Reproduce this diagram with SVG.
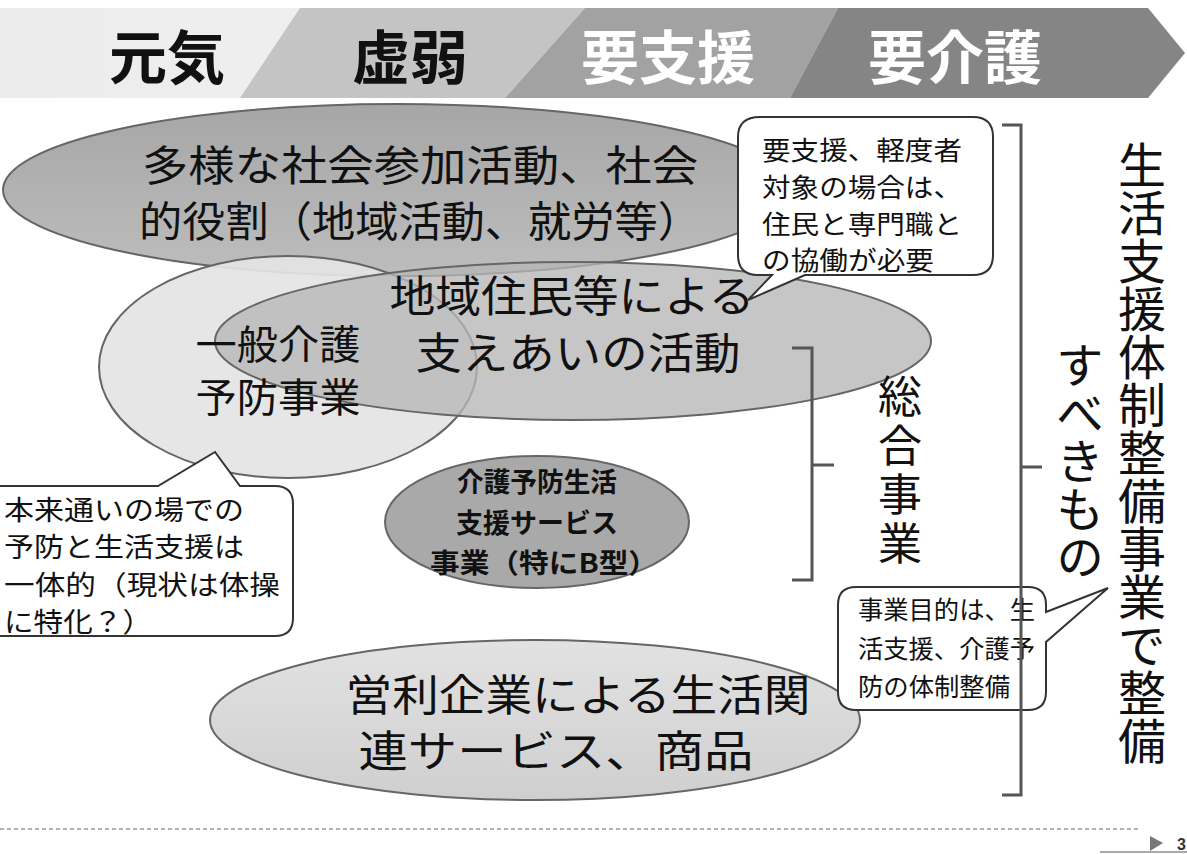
<svg xmlns="http://www.w3.org/2000/svg" width="1187" height="854" viewBox="0 0 1187 854">
<defs>
<linearGradient id="gGenki" x1="0" y1="0" x2="1" y2="0"><stop offset="0" stop-color="#ececec"/><stop offset="1" stop-color="#f6f6f6"/></linearGradient>
<linearGradient id="gE1" x1="0" y1="0" x2="0" y2="1"><stop offset="0" stop-color="#a6a6a6"/><stop offset="1" stop-color="#bdbdbd"/></linearGradient>
<linearGradient id="gE5" x1="0" y1="0" x2="0" y2="1"><stop offset="0" stop-color="#e2e2e2"/><stop offset="1" stop-color="#cfcfcf"/></linearGradient>
<style>
.jp{font-family:"Noto Sans CJK JP","Noto Sans CJK SC",sans-serif;fill:#111;}
.ban{font-size:58px;font-weight:bold;text-anchor:middle;dominant-baseline:central;}
.big{font-size:43px;text-anchor:middle;dominant-baseline:central;}
.mid{font-size:40px;text-anchor:middle;dominant-baseline:central;}
.b4{font-size:27px;font-weight:bold;text-anchor:middle;dominant-baseline:central;}
.call{fill:#fff;stroke:#333;stroke-width:2;}
.ct{font-size:26px;dominant-baseline:central;}
.cl{font-size:27px;dominant-baseline:central;}
.cr{font-size:25px;dominant-baseline:central;}
.ell{stroke:#666;stroke-width:2;}
.br{fill:none;stroke:#555;stroke-width:3;}
.vt{writing-mode:vertical-rl;font-size:48px;}
</style>
</defs>

<g id="banner">
<polygon points="0,8 1148,8 1185,53 1148,98 0,98" fill="url(#gGenki)"/>
<polygon points="300,8 585,8 505,98 240,98" fill="#c4c4c4"/>
<polygon points="585,8 838,8 790,98 505,98" fill="#a2a2a2"/>
<polygon points="838,8 1148,8 1185,53 1148,98 790,98" fill="#858585"/>
<text class="jp ban" x="167" y="54">元気</text>
<text class="jp ban" x="410" y="54">虚弱</text>
<text class="jp ban" x="668" y="54" style="fill:#fff">要支援</text>
<text class="jp ban" x="955" y="54" style="fill:#fff">要介護</text>
</g>

<g id="n-social">
<ellipse class="ell" cx="397" cy="190" rx="394" ry="86" fill="url(#gE1)"/>
</g>
<g id="n-general">
<ellipse class="ell" cx="288" cy="367" rx="189" ry="111" fill="#e4e4e4" fill-opacity="0.92"/>
</g>
<g id="n-community">
<ellipse class="ell" cx="573" cy="341" rx="358" ry="79" fill="#b6b6b6" fill-opacity="0.78"/>
</g>
<g id="n-service">
<ellipse class="ell" cx="537" cy="522" rx="152" ry="66" fill="#a9a9a9"/>
</g>
<g id="n-company">
<ellipse class="ell" cx="535" cy="720" rx="325" ry="80" fill="url(#gE5)"/>
</g>

<g id="labels">
<text class="jp big" x="420" y="162" style="font-size:42px" textLength="556" lengthAdjust="spacingAndGlyphs">多様な社会参加活動、社会</text>
<text class="jp big" x="420" y="218" style="font-size:42px" textLength="562" lengthAdjust="spacingAndGlyphs">的役割（地域活動、就労等）</text>
<text class="jp big" x="572" y="293" textLength="365" lengthAdjust="spacingAndGlyphs">地域住民等による</text>
<text class="jp big" x="578" y="350" textLength="325" lengthAdjust="spacingAndGlyphs">支えあいの活動</text>
<text class="jp mid" x="278" y="342" textLength="165" lengthAdjust="spacingAndGlyphs">一般介護</text>
<text class="jp mid" x="278" y="395" textLength="165" lengthAdjust="spacingAndGlyphs">予防事業</text>
<text class="jp b4" x="537" y="480" textLength="160" lengthAdjust="spacingAndGlyphs">介護予防生活</text>
<text class="jp b4" x="537" y="521" textLength="162" lengthAdjust="spacingAndGlyphs">支援サービス</text>
<text class="jp b4" x="544" y="561" textLength="228" lengthAdjust="spacingAndGlyphs">事業（特にB型）</text>
<text class="jp big" x="578" y="692" textLength="465" lengthAdjust="spacingAndGlyphs">営利企業による生活関</text>
<text class="jp big" x="556" y="748" textLength="395" lengthAdjust="spacingAndGlyphs">連サービス、商品</text>
</g>

<g id="callout-top">
<path class="call" d="M760,117 H973 Q993,117 993,137 V255 Q993,275 973,275 H805 L748,300 L772,275 H758 Q738,275 738,255 V137 Q738,117 760,117 Z"/>
<text class="jp ct" x="762" y="148" textLength="200" lengthAdjust="spacingAndGlyphs">要支援、軽度者</text>
<text class="jp ct" x="762" y="185" textLength="200" lengthAdjust="spacingAndGlyphs">対象の場合は、</text>
<text class="jp ct" x="762" y="222" textLength="200" lengthAdjust="spacingAndGlyphs">住民と専門職と</text>
<text class="jp ct" x="762" y="258" textLength="172" lengthAdjust="spacingAndGlyphs">の協働が必要</text>
</g>

<g id="callout-left">
<path class="call" d="M-2,486 H158 L215,452 L240,486 H275 Q293,486 293,504 V618 Q293,636 275,636 H-2 Z"/>
<text class="jp cl" x="4" y="508" textLength="240" lengthAdjust="spacingAndGlyphs">本来通いの場での</text>
<text class="jp cl" x="4" y="545" textLength="240" lengthAdjust="spacingAndGlyphs">予防と生活支援は</text>
<text class="jp cl" x="4" y="583" textLength="276" lengthAdjust="spacingAndGlyphs">一体的（現状は体操</text>
<text class="jp cl" x="4" y="620" textLength="148" lengthAdjust="spacingAndGlyphs">に特化？）</text>
</g>

<g id="callout-right">
<path class="call" d="M856,587 H1028 Q1046,587 1046,605 V612 L1108,588 L1046,642 V692 Q1046,710 1028,710 H856 Q838,710 838,692 V605 Q838,587 856,587 Z"/>
<text class="jp cr" x="858" y="608" textLength="177" lengthAdjust="spacingAndGlyphs">事業目的は、生</text>
<text class="jp cr" x="858" y="647" textLength="177" lengthAdjust="spacingAndGlyphs">活支援、介護予</text>
<text class="jp cr" x="858" y="685" textLength="152" lengthAdjust="spacingAndGlyphs">防の体制整備</text>
</g>

<g id="connectors">
<path class="br" d="M792,348 H812 V580 H792 M812,465 H834"/>
<path class="br" d="M1002,125 H1021 V795 H1002 M1021,467 H1042"/>
</g>

<g id="vertical-texts">
<text class="jp vt" x="900" y="374" style="font-size:44px;letter-spacing:5px">総合事業</text>
<text class="jp vt" x="1142" y="141">生活支援体制整備事業で整備</text>
<text class="jp vt" x="1080" y="341">すべきもの</text>
</g>

<g id="footer">
<line x1="0" y1="829" x2="1138" y2="829" stroke="#999" stroke-width="1.5" stroke-dasharray="4,3"/>
<polygon points="1150,836 1163,843 1150,851" fill="#777"/>
<text x="1177" y="850" style="font-family:'Liberation Sans',sans-serif;font-size:16px;font-weight:bold;fill:#333">3</text>
<line x1="1100" y1="852" x2="1187" y2="852" stroke="#aaa" stroke-width="2"/>
</g>
</svg>
